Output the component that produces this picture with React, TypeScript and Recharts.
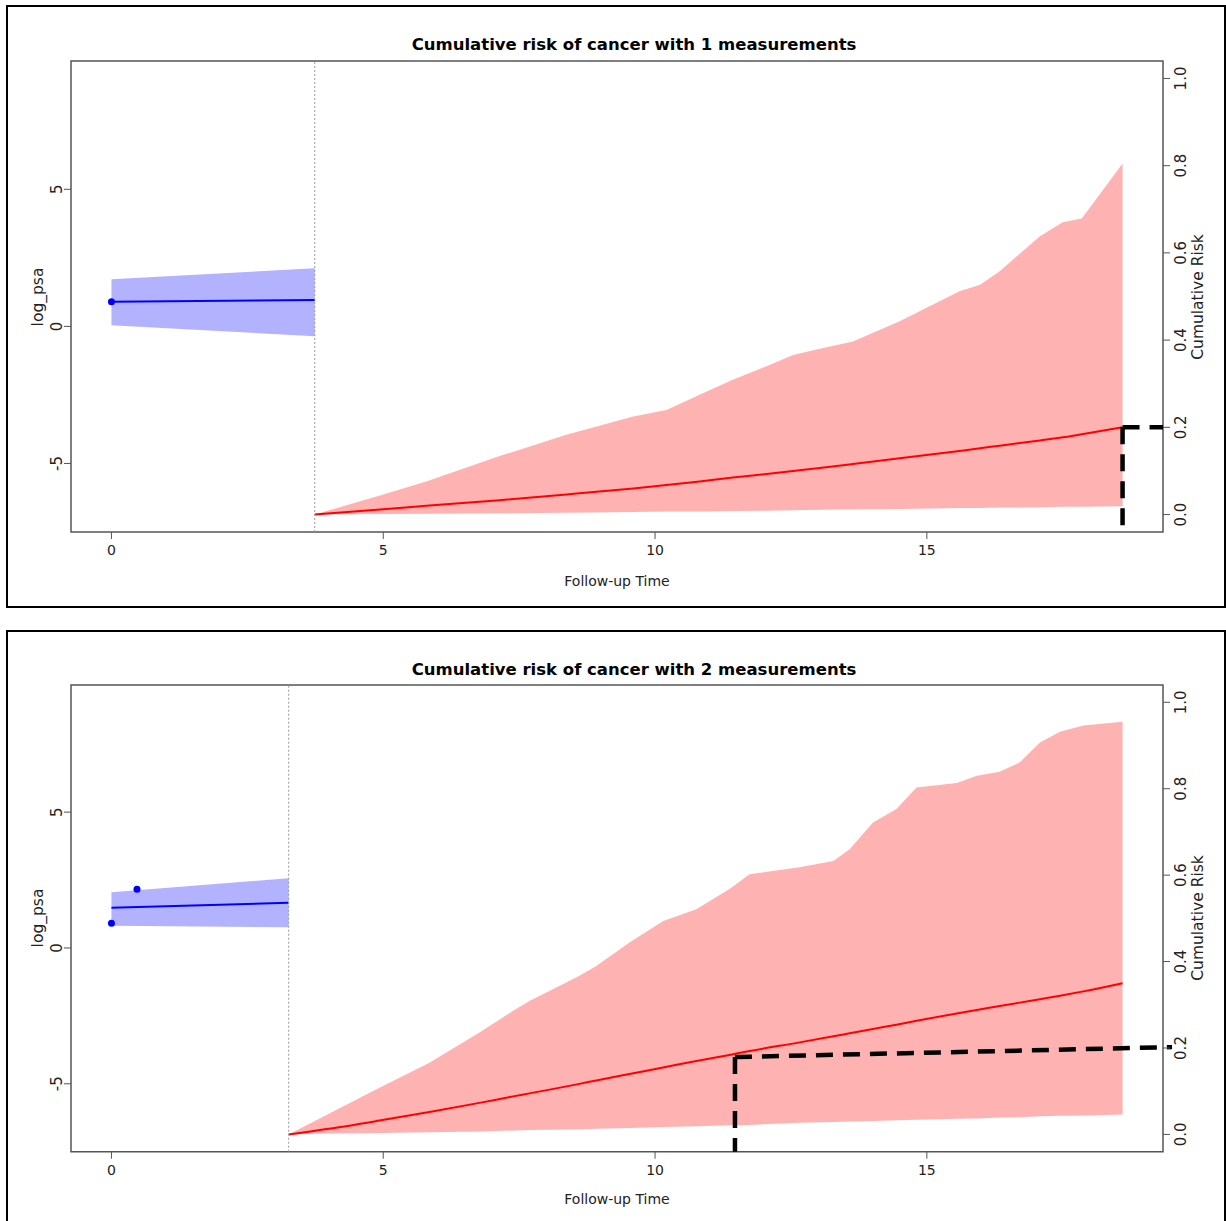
import React from "react";
import {
  ComposedChart, Area, Line, XAxis, YAxis, ReferenceLine, ReferenceArea,
} from "recharts";

// shared scales
const xTicks = [0, 5, 10, 15];
const psaTicks = [-5, 0, 5];
const riskTicks = [0, 0.2, 0.4, 0.6, 0.8, 1.0];
const xDomain = [-0.744, 19.344];
const psaDomain = [-7.5, 9.68];
const riskDomain = [-0.04, 1.04];

// panel 1: one measurement
const obsTime1 = [0];
const obsPsa1 = [0.9];
const fitTime1 = [0, 3.74];
const fitPsa1 = [0.9, 0.96];
const fitLow1 = [0.04, -0.36];
const fitHigh1 = [1.72, 2.12];
const riskTime1 = [3.74, 5.0, 5.79, 7.14, 8.37, 9.6, 10.21, 10.82, 11.43, 12.05, 12.54, 13.03, 13.64, 14.5, 15.6, 15.98, 16.34, 17.08, 17.5, 17.85, 18.6];
const riskMean1 = [0, 0.012, 0.02, 0.033, 0.046, 0.06, 0.068, 0.076, 0.085, 0.093, 0.1, 0.107, 0.116, 0.129, 0.146, 0.152, 0.158, 0.17, 0.177, 0.184, 0.2];
const riskLow1 = [0, 0.001, 0.002, 0.003, 0.004, 0.006, 0.007, 0.007, 0.008, 0.009, 0.01, 0.011, 0.012, 0.013, 0.015, 0.015, 0.016, 0.017, 0.018, 0.018, 0.019];
const riskHigh1 = [0, 0.046, 0.076, 0.134, 0.183, 0.225, 0.24, 0.275, 0.309, 0.34, 0.366, 0.38, 0.397, 0.443, 0.512, 0.527, 0.558, 0.638, 0.67, 0.679, 0.805];
const guideTime1 = [18.6, 19.344];
const guideRisk1 = [0.2, 0.2];

// panel 2: two measurements
const obsTime2 = [0, 0.47];
const obsPsa2 = [0.91, 2.16];
const fitTime2 = [0, 3.26];
const fitPsa2 = [1.48, 1.66];
const fitLow2 = [0.82, 0.76];
const fitHigh2 = [2.05, 2.57];
const riskTime2 = [3.26, 4.0, 4.93, 5.85, 6.77, 7.39, 7.69, 8.61, 8.92, 9.53, 10.15, 10.76, 11.37, 11.74, 12.66, 13.28, 13.58, 14.01, 14.44, 14.81, 15.55, 15.92, 16.34, 16.71, 17.08, 17.45, 17.88, 18.6];
const riskMean2 = [0, 0.013, 0.032, 0.052, 0.073, 0.088, 0.095, 0.117, 0.125, 0.14, 0.155, 0.17, 0.184, 0.193, 0.213, 0.227, 0.234, 0.244, 0.254, 0.263, 0.28, 0.288, 0.297, 0.305, 0.313, 0.321, 0.331, 0.35];
const riskLow2 = [0, 0.002, 0.003, 0.005, 0.007, 0.009, 0.01, 0.012, 0.013, 0.015, 0.017, 0.019, 0.021, 0.022, 0.027, 0.029, 0.03, 0.031, 0.033, 0.034, 0.036, 0.037, 0.039, 0.04, 0.042, 0.043, 0.044, 0.046];
const riskHigh2 = [0, 0.048, 0.108, 0.166, 0.236, 0.286, 0.309, 0.367, 0.39, 0.444, 0.494, 0.521, 0.568, 0.602, 0.618, 0.633, 0.66, 0.722, 0.753, 0.803, 0.813, 0.83, 0.839, 0.861, 0.907, 0.932, 0.946, 0.955];
const guideTime2 = [11.47, 19.51];
const guideRisk2 = [0.179, 0.202];

const FONT = "DejaVu Sans";
const TXT = "#222";

const bandRows = (time: number[], mid: number[], lo: number[], hi: number[]) =>
  time.map((t, i) => ({ t, mid: mid[i], band: [lo[i], hi[i]] }));

const XTick = ({ x, y, payload }: any) => (
  <text x={x} y={y + 14} textAnchor="middle" fontSize={14} fill={TXT} fontFamily={FONT}>
    {payload.value}
  </text>
);

const LeftTick = ({ x, y, payload }: any) => (
  <text x={x} y={y} transform={`rotate(-90 ${x} ${y})`} textAnchor="middle" fontSize={15} fill={TXT} fontFamily={FONT}>
    {payload.value}
  </text>
);

const RightTick = ({ x, y, payload }: any) => (
  <text x={x + 14} y={y} transform={`rotate(-90 ${x + 14} ${y})`} textAnchor="middle" fontSize={15} fill={TXT} fontFamily={FONT}>
    {Number(payload.value).toFixed(1)}
  </text>
);

function Panel({ top, plotH, obsT, obsY, fitT, fitY, fitLo, fitHi, rT, rY, rLo, rHi, gT, gR }: any) {
  const H = 600;
  const fit = bandRows(fitT, fitY, fitLo, fitHi);
  const risk = bandRows(rT, rY, rLo, rHi);
  const obs = obsT.map((t: number, i: number) => ({ t, y: obsY[i] }));
  const lastVisit = fitT[fitT.length - 1];
  const dash = { stroke: "#000", strokeWidth: 4.5, strokeDasharray: "17 10" };

  return (
    <div style={{ position: "absolute", left: 0, top }}>
      <ComposedChart width={1226} height={H} margin={{ top: 61, left: 31, right: 3, bottom: H - 61 - plotH - 30 }}>
        <XAxis type="number" dataKey="t" domain={xDomain} ticks={xTicks} allowDataOverflow
          axisLine={false} tickSize={7} tickLine={{ stroke: "#555" }} tick={<XTick />} height={30} />
        <YAxis yAxisId="left" domain={psaDomain} ticks={psaTicks} allowDataOverflow width={40}
          axisLine={false} tickSize={7} tickLine={{ stroke: "#555" }} tick={<LeftTick />} />
        <YAxis yAxisId="right" orientation="right" domain={riskDomain} ticks={riskTicks} allowDataOverflow width={60}
          axisLine={false} tickSize={7} tickLine={{ stroke: "#555" }} tick={<RightTick />} />

        <Area yAxisId="left" data={fit} dataKey="band" type="linear" stroke="none" fill="#B2B2FF" fillOpacity={1} isAnimationActive={false} />
        <Line yAxisId="left" data={fit} dataKey="mid" type="linear" stroke="#0000FF" strokeWidth={2} dot={false} isAnimationActive={false} />
        <Line yAxisId="left" data={obs} dataKey="y" stroke="none" dot={{ r: 3.5, fill: "#0000FF", stroke: "none" }} isAnimationActive={false} />

        <Area yAxisId="right" data={risk} dataKey="band" type="linear" stroke="none" fill="#FFB2B2" fillOpacity={1} isAnimationActive={false} />
        <Line yAxisId="right" data={risk} dataKey="mid" type="monotone" stroke="#FF0000" strokeWidth={2} dot={false} isAnimationActive={false} />

        <ReferenceLine yAxisId="left" x={lastVisit} stroke="#999" strokeWidth={1} strokeDasharray="2 2" />
        <ReferenceArea yAxisId="left" x1={xDomain[0]} x2={xDomain[1]} y1={psaDomain[0]} y2={psaDomain[1]}
          fill="none" stroke="#555" strokeWidth={1.5} ifOverflow="visible" />

        <ReferenceLine yAxisId="right" ifOverflow="visible" {...dash}
          segment={[{ x: gT[0], y: gR[0] }, { x: gT[0], y: riskDomain[0] }]} />
        <ReferenceLine yAxisId="right" ifOverflow="visible" {...dash}
          segment={[{ x: gT[0], y: gR[0] }, { x: gT[1], y: gR[1] }]} />
      </ComposedChart>
    </div>
  );
}

export default function App() {
  return (
    <div style={{ position: "absolute", left: 0, top: 0, width: 1226, height: 1221, background: "#fff", overflow: "hidden" }}>
      <div style={{ position: "absolute", left: 6, top: 5, width: 1220, height: 603, border: "2px solid #000", boxSizing: "border-box" }} />
      <div style={{ position: "absolute", left: 6, top: 630, width: 1220, height: 600, border: "2px solid #000", boxSizing: "border-box" }} />

      <Panel top={0} plotH={471} obsT={obsTime1} obsY={obsPsa1} fitT={fitTime1} fitY={fitPsa1} fitLo={fitLow1} fitHi={fitHigh1}
        rT={riskTime1} rY={riskMean1} rLo={riskLow1} rHi={riskHigh1} gT={guideTime1} gR={guideRisk1} />
      <Panel top={624} plotH={466.7} obsT={obsTime2} obsY={obsPsa2} fitT={fitTime2} fitY={fitPsa2} fitLo={fitLow2} fitHi={fitHigh2}
        rT={riskTime2} rY={riskMean2} rLo={riskLow2} rHi={riskHigh2} gT={guideTime2} gR={guideRisk2} />

      <svg width={1226} height={1221} style={{ position: "absolute", left: 0, top: 0, pointerEvents: "none" }} fontFamily={FONT} fill={TXT}>
        <text x={634} y={50} textAnchor="middle" fontSize={16.5} fontWeight="bold" fill="#000">Cumulative risk of cancer with 1 measurements</text>
        <text x={634} y={675} textAnchor="middle" fontSize={16.5} fontWeight="bold" fill="#000">Cumulative risk of cancer with 2 measurements</text>
        <text x={617} y={586} textAnchor="middle" fontSize={14}>Follow-up Time</text>
        <text x={617} y={1204} textAnchor="middle" fontSize={14}>Follow-up Time</text>
        <text x={43} y={297} transform="rotate(-90 43 297)" textAnchor="middle" fontSize={15.5}>log_psa</text>
        <text x={43} y={918} transform="rotate(-90 43 918)" textAnchor="middle" fontSize={15.5}>log_psa</text>
        <text x={1203} y={297} transform="rotate(-90 1203 297)" textAnchor="middle" fontSize={15.5}>Cumulative Risk</text>
        <text x={1203} y={918} transform="rotate(-90 1203 918)" textAnchor="middle" fontSize={15.5}>Cumulative Risk</text>
      </svg>
    </div>
  );
}
